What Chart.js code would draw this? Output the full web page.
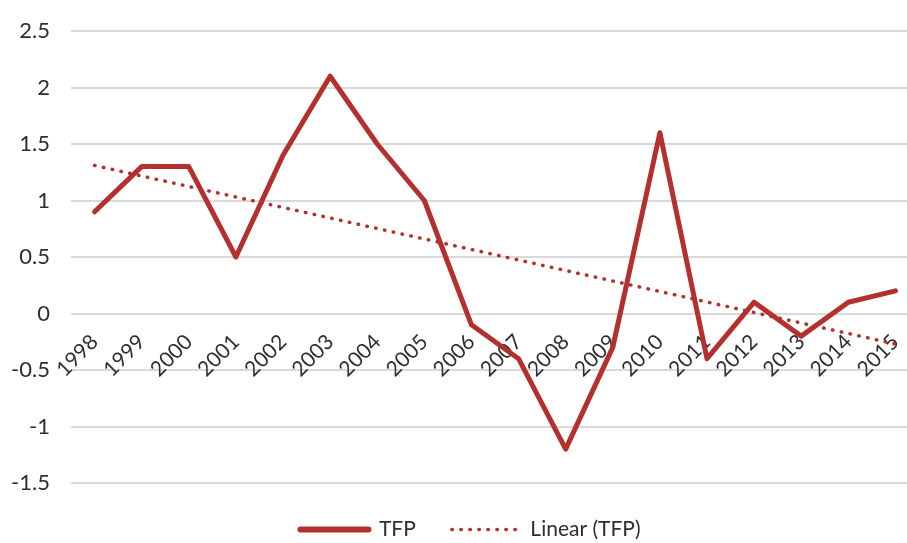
<!DOCTYPE html>
<html>
<head>
<meta charset="utf-8">
<script src="https://cdn.jsdelivr.net/npm/chart.js@4/dist/chart.umd.min.js"></script>
<style>
  html, body { margin: 0; padding: 0; background: #fff; overflow: hidden; }
  #wrap { width: 919px; height: 543px; position: relative; }
</style>
</head>
<body>
<div id="wrap"><canvas id="c"></canvas></div>
<script>
const years = ['1998','1999','2000','2001','2002','2003','2004','2005','2006','2007','2008','2009','2010','2011','2012','2013','2014','2015'];
const tfpValues = [0.9, 1.3, 1.3, 0.5, 1.4, 2.1, 1.5, 1.0, -0.1, -0.4, -1.2, -0.3, 1.6, -0.4, 0.1, -0.2, 0.1, 0.2];
const trendYears = ['1998', '2015'];
const trendValues = [1.31, -0.27];
const yTicks = [-1.5, -1, -0.5, 0, 0.5, 1, 1.5, 2, 2.5];

const RED = '#B3302E';
const TEXT = '#2E2E2E';
const FONT = 'Lato, "Open Sans", sans-serif';

// nudges the centred legend slightly right, as in the original layout
const legendShift = {
  id: 'legendShift',
  afterLayout(chart) {
    if (chart.legend) { chart.legend.left += 22; }
  }
};

new Chart(document.getElementById('c'), {
  type: 'line',
  data: {
    labels: years,
    datasets: [
      {
        label: 'TFP',
        data: tfpValues,
        borderColor: RED,
        backgroundColor: RED,
        borderWidth: 5,
        borderJoinStyle: 'round',
        borderCapStyle: 'round',
        pointRadius: 0,
        tension: 0
      },
      {
        label: 'Linear (TFP)',
        data: trendYears.map((yr, i) => ({ x: yr, y: trendValues[i] })),
        borderColor: RED,
        backgroundColor: RED,
        borderWidth: 3.5,
        borderDash: [0.5, 8.5],
        borderCapStyle: 'round',
        pointRadius: 0,
        tension: 0
      }
    ]
  },
  plugins: [legendShift],
  options: {
    responsive: true,
    maintainAspectRatio: false,
    animation: false,
    layout: { padding: { left: 0, right: 0, top: 31, bottom: 0 } },
    plugins: {
      tooltip: { enabled: false },
      legend: {
        position: 'bottom',
        maxHeight: 60,
        labels: {
          usePointStyle: true,
          pointStyle: 'line',
          pointStyleWidth: 68,
          padding: 36,
          color: TEXT,
          font: { family: FONT, size: 21 },
          generateLabels: (chart) => chart.data.datasets.map((ds, i) => ({
            text: ds.label,
            datasetIndex: i,
            fillStyle: ds.borderColor,
            strokeStyle: ds.borderColor,
            fontColor: TEXT,
            lineWidth: i === 0 ? 6 : 3.5,
            lineDash: ds.borderDash || [],
            lineCap: 'round',
            pointStyle: 'line',
            hidden: false
          }))
        }
      }
    },
    scales: {
      x: {
        type: 'category',
        position: { y: 0 },
        offset: true,
        grid: { display: false, drawTicks: false },
        border: { display: false },
        afterFit: (scale) => {
          scale.paddingLeft = 0; scale.paddingRight = 0;
          scale.paddingTop = 0; scale.paddingBottom = 0;
        },
        ticks: {
          minRotation: 45,
          maxRotation: 45,
          autoSkip: false,
          padding: 16,
          color: TEXT,
          font: { family: FONT, size: 21 }
        }
      },
      y: {
        min: -1.5,
        max: 2.5,
        afterBuildTicks: (scale) => { scale.ticks = yTicks.map(v => ({ value: v })); },
        afterFit: (scale) => {
          scale.width = 71;
          scale.paddingTop = 0; scale.paddingBottom = 0;
        },
        grid: { color: '#D9D9D9', lineWidth: 2, drawTicks: false },
        border: { display: false },
        ticks: {
          padding: 21,
          color: TEXT,
          callback: (v) => String(v),
          font: { family: FONT, size: 22 }
        }
      }
    }
  }
});
</script>
</body>
</html>
